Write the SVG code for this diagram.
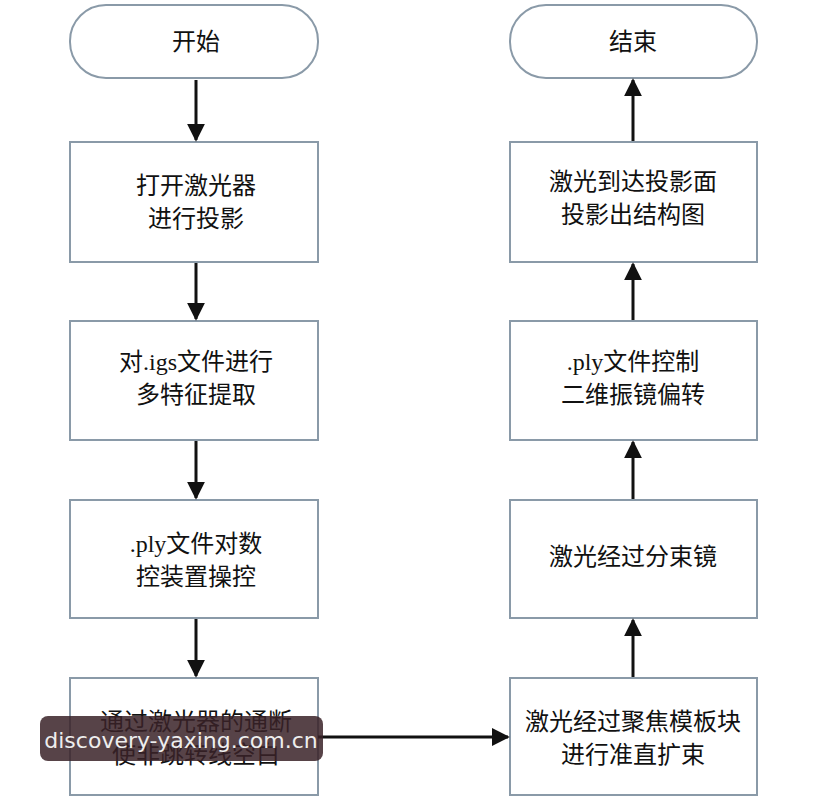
<svg xmlns="http://www.w3.org/2000/svg" width="826" height="800" viewBox="0 0 826 800">
<style>
.b{fill:#fff;stroke:#8a9aa8;stroke-width:2}
.t{font-family:"Liberation Serif","Noto Sans CJK SC",serif;font-size:24px;fill:#111;text-anchor:middle}
.c{stroke:#111;stroke-width:3;fill:none}
</style>
<defs><marker id="a" viewBox="0 0 10 10" refX="9" refY="5" markerWidth="6" markerHeight="6" markerUnits="strokeWidth" orient="auto"><path d="M0,0L10,5L0,10z" fill="#111"/></marker></defs>
<rect width="826" height="800" fill="#fff"/>
<g id="n1"><rect class="b" x="70" y="5" width="248" height="73" rx="36"/><text class="t" x="196" y="50">开始</text></g>
<g id="n2"><rect class="b" x="70" y="142" width="248" height="120"/><text class="t" x="196" y="194">打开激光器</text><text class="t" x="196" y="227">进行投影</text></g>
<g id="n3"><rect class="b" x="70" y="321" width="248" height="119"/><text class="t" x="196" y="370">对.igs文件进行</text><text class="t" x="196" y="403">多特征提取</text></g>
<g id="n4"><rect class="b" x="70" y="500" width="248" height="118"/><text class="t" x="196" y="552">.ply文件对数</text><text class="t" x="196" y="585">控装置操控</text></g>
<g id="n5"><rect class="b" x="70" y="678" width="248" height="117"/><text class="t" x="196" y="730">通过激光器的通断</text><text class="t" x="196" y="763">使非跳转线空白</text></g>
<g id="n6"><rect class="b" x="510" y="678" width="247" height="117"/><text class="t" x="633" y="730">激光经过聚焦模板块</text><text class="t" x="633" y="763">进行准直扩束</text></g>
<g id="n7"><rect class="b" x="510" y="500" width="247" height="118"/><text class="t" x="633" y="565">激光经过分束镜</text></g>
<g id="n8"><rect class="b" x="510" y="321" width="247" height="119"/><text class="t" x="633" y="370">.ply文件控制</text><text class="t" x="633" y="403">二维振镜偏转</text></g>
<g id="n9"><rect class="b" x="510" y="142" width="247" height="120"/><text class="t" x="633" y="190">激光到达投影面</text><text class="t" x="633" y="223">投影出结构图</text></g>
<g id="n10"><rect class="b" x="510" y="5" width="247" height="73" rx="36"/><text class="t" x="633" y="50">结束</text></g>
<g id="edges">
<line class="c" x1="196" y1="80" x2="196" y2="140" marker-end="url(#a)"/>
<line class="c" x1="196" y1="263" x2="196" y2="319" marker-end="url(#a)"/>
<line class="c" x1="196" y1="441" x2="196" y2="498" marker-end="url(#a)"/>
<line class="c" x1="196" y1="619" x2="196" y2="676" marker-end="url(#a)"/>
<line class="c" x1="318" y1="737" x2="508" y2="737" marker-end="url(#a)"/>
<line class="c" x1="633" y1="677" x2="633" y2="620" marker-end="url(#a)"/>
<line class="c" x1="633" y1="499" x2="633" y2="442" marker-end="url(#a)"/>
<line class="c" x1="633" y1="320" x2="633" y2="264" marker-end="url(#a)"/>
<line class="c" x1="633" y1="141" x2="633" y2="80" marker-end="url(#a)"/>
</g>
<g id="watermark"><rect x="40" y="716" width="283" height="45" rx="8" fill="#3a2228" opacity="0.85"/><text x="181" y="748" font-family="'DejaVu Sans',sans-serif" font-size="22" fill="#eee" text-anchor="middle">discovery-yaxing.com.cn</text></g>
</svg>
